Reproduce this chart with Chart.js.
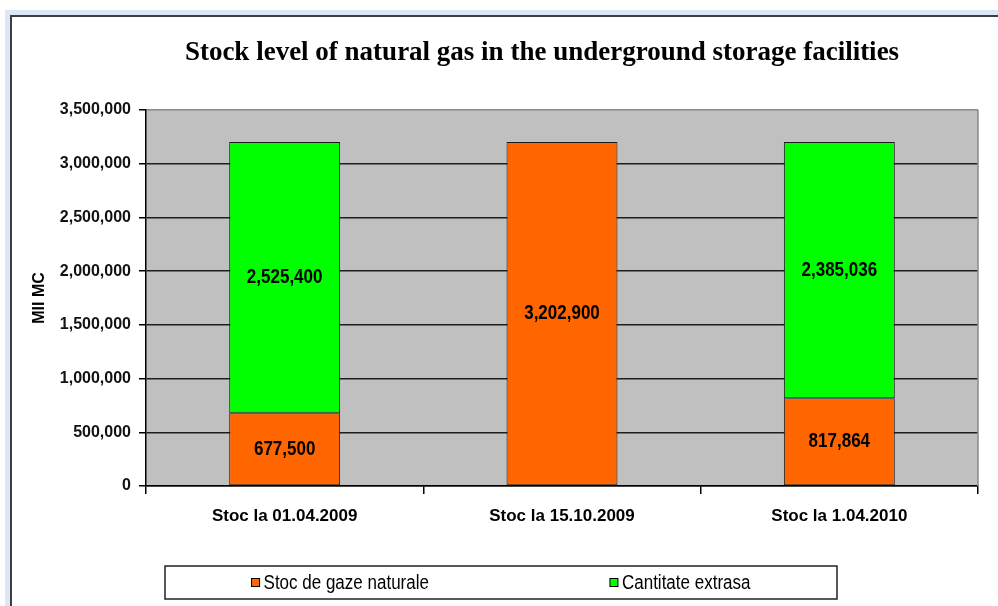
<!DOCTYPE html>
<html>
<head>
<meta charset="utf-8">
<title>Stock level of natural gas</title>
<script src="https://cdn.jsdelivr.net/npm/chart.js@4.4.1/dist/chart.umd.min.js"></script>
<style>
  html, body { margin: 0; padding: 0; width: 998px; height: 606px; overflow: hidden; background: #fff; }
  #band { position: absolute; left: 5px; top: 10px; right: -20px; bottom: -20px;
          border-left: 5px solid #dce6f4; border-top: 5px solid #dce6f4; }
  #frame { position: absolute; left: 10px; top: 15px; right: -20px; bottom: -20px;
           border-left: 2px solid #3d3d45; border-top: 2px solid #3d3d45; background: #fff; }
  #chart { position: absolute; left: 0; top: 0; }
</style>
</head>
<body>
<div id="band"></div>
<div id="frame"></div>
<canvas id="chart" width="1064" height="606"></canvas>
<script>
const categories = ['Stoc la 01.04.2009', 'Stoc la 15.10.2009', 'Stoc la 1.04.2010'];
const stocValues = [677500, 3202900, 817864];
const extrasValues = [2525400, null, 2385036];
const seriesNames = ['Stoc de gaze naturale', 'Cantitate extrasa'];
const seriesColors = ['#ff6600', '#00ff00'];
const yMax = 3500000;
const yStep = 500000;

const fmt = v => Number(v).toLocaleString('en-US');
const SANS = '"Liberation Sans", Arial, sans-serif';
const NARROW_X = 0.85; // squeeze factor to mimic Arial Narrow

function narrowText(ctx, text, x, y, align) {
  const w = ctx.measureText(text).width * NARROW_X;
  const x0 = align === 'center' ? x - w / 2 : x;
  ctx.save();
  ctx.translate(x0, y);
  ctx.scale(NARROW_X, 1);
  ctx.textAlign = 'left';
  ctx.fillText(text, 0, 0);
  ctx.restore();
  return w;
}

// grey plot area + right edge
const plotBg = {
  id: 'plotBg',
  beforeDraw(chart) {
    const {ctx, chartArea: a} = chart;
    ctx.save();
    ctx.fillStyle = '#c0c0c0';
    ctx.fillRect(a.left, a.top, a.right - a.left, a.bottom - a.top);
    ctx.restore();
  },
  beforeDatasetsDraw(chart) {
    const {ctx, chartArea: a} = chart;
    ctx.save();
    ctx.strokeStyle = '#8a8a8a';
    ctx.lineWidth = 1.5;
    ctx.beginPath();
    ctx.moveTo(a.right, a.top);
    ctx.lineTo(a.right, a.bottom);
    ctx.stroke();
    ctx.restore();
  }
};

// values written in the middle of each segment
const barLabels = {
  id: 'barLabels',
  afterDatasetsDraw(chart) {
    const ctx = chart.ctx;
    ctx.save();
    ctx.font = 'bold 20px ' + SANS;
    ctx.fillStyle = '#000';
    ctx.textBaseline = 'middle';
    chart.data.datasets.forEach((ds, i) => {
      chart.getDatasetMeta(i).data.forEach((bar, j) => {
        const v = ds.data[j];
        if (v == null) return;
        const p = bar.getProps(['x', 'y', 'base'], true);
        narrowText(ctx, fmt(v), p.x, (p.y + p.base) / 2, 'center');
      });
    });
    ctx.restore();
  }
};

// boxed legend like the Excel one
const boxLegend = {
  id: 'boxLegend',
  afterDraw(chart) {
    const ctx = chart.ctx;
    const left = 165, right = 837, top = 566, bottom = 599;
    const cy = (top + bottom) / 2;
    const sq = 8, gapText = 4, gapItems = 181;
    ctx.save();
    ctx.fillStyle = '#fff';
    ctx.fillRect(left, top, right - left, bottom - top);
    ctx.strokeStyle = '#222';
    ctx.lineWidth = 1.5;
    ctx.strokeRect(left, top, right - left, bottom - top);
    ctx.font = '20px ' + SANS;
    ctx.textBaseline = 'middle';
    const ds = chart.data.datasets;
    const widths = ds.map(d => sq + gapText + ctx.measureText(d.label).width * NARROW_X);
    const total = widths.reduce((s, w) => s + w, 0) + gapItems * (ds.length - 1);
    let x = (left + right) / 2 - total / 2;
    ds.forEach((d, i) => {
      ctx.fillStyle = d.backgroundColor;
      ctx.fillRect(x, cy - sq / 2, sq, sq);
      ctx.strokeStyle = '#000';
      ctx.lineWidth = 1;
      ctx.strokeRect(x, cy - sq / 2, sq, sq);
      ctx.fillStyle = '#000';
      narrowText(ctx, d.label, x + sq + gapText, cy + 1, 'left');
      x += widths[i] + gapItems;
    });
    ctx.restore();
  }
};

new Chart(document.getElementById('chart'), {
  type: 'bar',
  data: {
    labels: categories,
    datasets: [
      { label: seriesNames[0], data: stocValues, backgroundColor: seriesColors[0] },
      { label: seriesNames[1], data: extrasValues, backgroundColor: seriesColors[1] }
    ].map(d => Object.assign(d, {
      borderColor: '#1a1a1a', borderWidth: 1, borderSkipped: false,
      barPercentage: 0.4, categoryPercentage: 1
    }))
  },
  options: {
    responsive: false,
    animation: false,
    layout: { padding: { top: 20, left: 20, right: 0, bottom: 80 } },
    plugins: {
      legend: { display: false },
      tooltip: { enabled: false },
      title: {
        display: true,
        text: 'Stock level of natural gas in the underground storage facilities',
        color: '#000',
        font: { family: '"Liberation Serif", "Times New Roman", serif', size: 27, weight: 'bold', lineHeight: 1.2 },
        padding: { top: 17, bottom: 40.6 }
      }
    },
    scales: {
      x: {
        stacked: true,
        grid: { display: true, drawOnChartArea: false, offset: true, tickLength: 8, color: '#000', tickColor: '#000', lineWidth: 1.5 },
        border: { color: '#000', width: 1.5 },
        ticks: { color: '#000', padding: 12, font: { family: SANS, size: 17, weight: 'bold' } },
        afterFit(scale) { scale.height = 40; }
      },
      y: {
        stacked: true,
        min: 0,
        max: yMax,
        grid: {
          color: c => (c.tick && c.tick.value === yMax ? '#8a8a8a' : '#1e1e1e'),
          tickColor: '#000',
          lineWidth: 1.5,
          tickLength: 7
        },
        border: { color: '#000', width: 1.5 },
        ticks: {
          stepSize: yStep,
          color: '#111',
          padding: 8,
          font: { family: SANS, size: 16, weight: 'bold' },
          callback: v => fmt(v)
        },
        title: {
          display: true,
          text: 'MII MC',
          color: '#000',
          font: { family: SANS, size: 16, weight: 'bold', lineHeight: 1.2 },
          padding: { top: 10, bottom: 0 }
        },
        afterFit(scale) { scale.width = 126; }
      },
      // empty right-hand box so the title sits where the original one does
      yRight: {
        position: 'right',
        display: true,
        min: 0,
        max: 1,
        grid: { display: false, drawTicks: false },
        border: { display: false },
        ticks: { display: false },
        afterFit(scale) { scale.width = 86; }
      }
    }
  },
  plugins: [plotBg, barLabels, boxLegend]
});
</script>
</body>
</html>
